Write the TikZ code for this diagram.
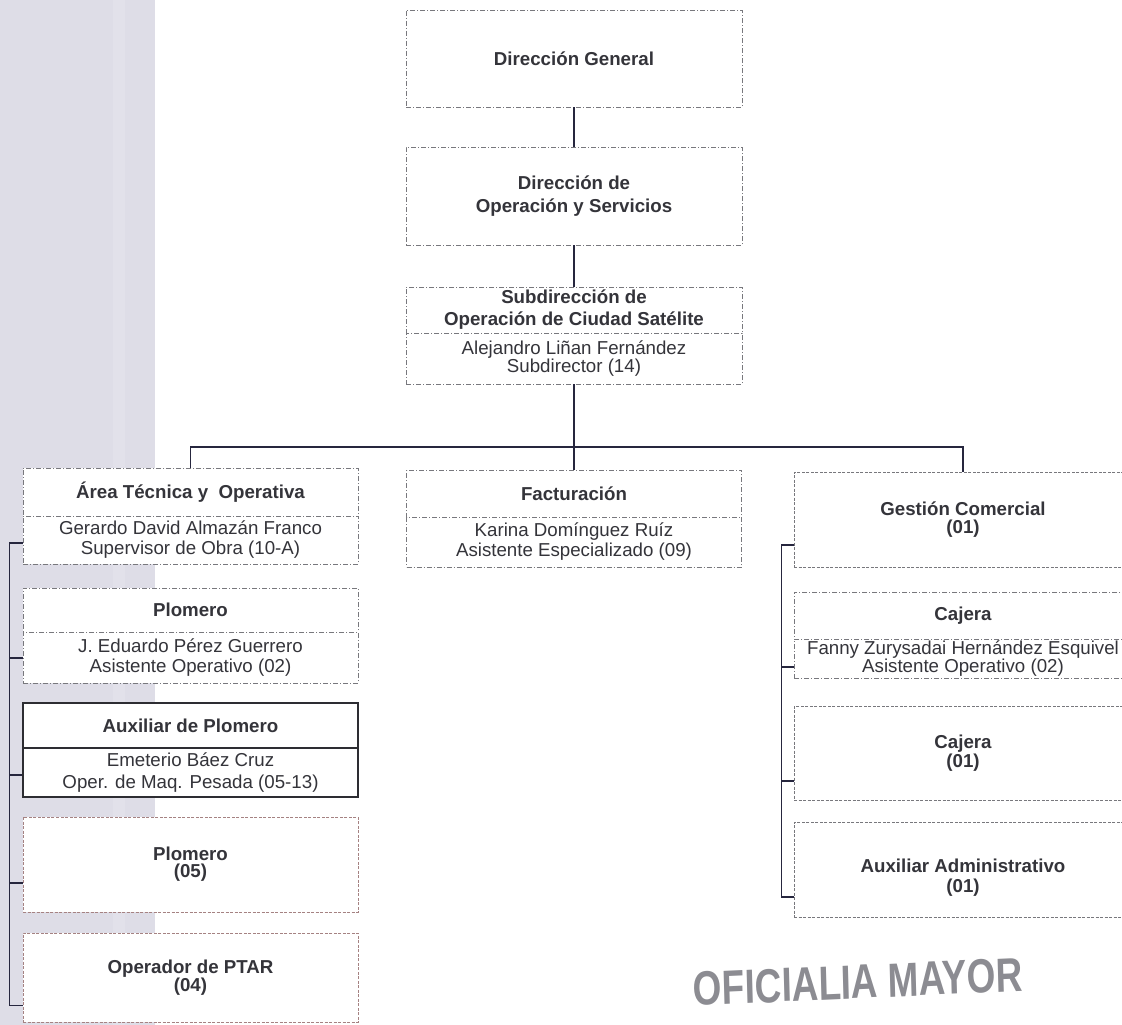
\documentclass[tikz,border=0pt]{standalone}
\usepackage{fontspec}
\setmainfont{Liberation Sans}
\definecolor{textc}{RGB}{52,52,58}
\definecolor{boxc}{RGB}{120,120,125}
\definecolor{redc}{RGB}{165,130,130}
\definecolor{solidc}{RGB}{45,45,50}
\definecolor{connc}{RGB}{38,38,62}
\definecolor{bandc}{RGB}{222,221,231}
\definecolor{bandl}{RGB}{226,225,234}
\definecolor{stampc}{RGB}{140,140,146}
\begin{document}
\begin{tikzpicture}[x=1pt,y=-1pt,
  txt/.style={text=textc, align=center, inner sep=0pt, font=\fontsize{18.7}{20}\selectfont},
  bt/.style={font=\fontsize{18.7}{#1}\selectfont\bfseries},
  bt/.default=20,
  box/.style={txt, draw=boxc, fill=white, line width=0.7pt},
  ddbox/.style={box, dash pattern=on 5pt off 2pt on 1pt off 2pt},
  dsbox/.style={box, dash pattern=on 3pt off 1.5pt},
  rdbox/.style={box, draw=redc, dash pattern=on 3pt off 1.5pt},
  slbox/.style={box, draw=solidc, line width=1.1pt},
  conn/.style={draw=connc, line width=1.6pt}
]
\useasboundingbox (0,0) rectangle (1122,1025);
\clip (0,0) rectangle (1122,1025);
\fill[white] (0,0) rectangle (1122,1025);
\fill[bandc] (0,0) rectangle (155,1025);
\fill[bandl] (113,0) rectangle (125,1025);

% top column
\node[ddbox, bt, minimum width=336pt, minimum height=97pt] (dg) at (574,58.5) {Dirección General};
\node[ddbox, bt=23, minimum width=336pt, minimum height=98pt] (dos) at (574,196) {Dirección de\\Operación y Servicios};
\node[ddbox, bt=22, minimum width=336pt, minimum height=46pt] (subt) at (574,310) {Subdirección de\\Operación de Ciudad Satélite};
\node[ddbox, minimum width=336pt, minimum height=51pt, font=\fontsize{18.7}{18}\selectfont] (subn) at (574,358.5) {Alejandro Liñan Fernández\\Subdirector (14)};

% middle
\node[ddbox, bt, minimum width=335pt, minimum height=47pt] (fact) at (574,493.5) {Facturación};
\node[ddbox, minimum width=335pt, minimum height=50pt] (factn) at (574,542) {Karina Domínguez Ruíz\\Asistente Especializado (09)};

% left column
\node[ddbox, bt, minimum width=335pt, minimum height=48pt] (area) at (190.5,492) {Área Técnica y\ \ Operativa};
\node[ddbox, minimum width=335pt, minimum height=48pt] (arean) at (190.5,540) {Gerardo David Almazán Franco\\Supervisor de Obra (10-A)};
\node[ddbox, bt, minimum width=335pt, minimum height=44pt] (plo) at (190.5,610) {Plomero};
\node[ddbox, minimum width=335pt, minimum height=51pt] (plon) at (190.5,657.5) {J. Eduardo Pérez Guerrero\\Asistente Operativo (02)};
\node[slbox, bt, minimum width=335pt, minimum height=45pt] (aux) at (190.5,725.5) {Auxiliar de Plomero};
\node[slbox, minimum width=335pt, minimum height=49pt, font=\fontsize{18.7}{22}\selectfont] (auxn) at (190.5,772.5) {Emeterio Báez Cruz\\Oper. de Maq. Pesada (05-13)};
\node[rdbox, bt=17, minimum width=335pt, minimum height=95pt] (p05) at (190.5,864.5) {Plomero\\(05)};
\node[rdbox, bt=18, minimum width=335pt, minimum height=89pt] (ptar) at (190.5,977.5) {Operador de PTAR\\(04)};

% right column
\node[dsbox, bt=18, minimum width=338pt, minimum height=95pt] (gest) at (963,519.5) {Gestión Comercial\\(01)};
\node[ddbox, bt, minimum width=338pt, minimum height=47pt] (caj) at (963,615.5) {Cajera};
\node[ddbox, minimum width=338pt, minimum height=39pt, font=\fontsize{18.7}{17}\selectfont] (cajn) at (963,658.5) {Fanny Zurysadai Hernández Esquivel\\Asistente Operativo (02)};
\node[dsbox, bt=17, minimum width=338pt, minimum height=94pt] (caj1) at (963,753) {Cajera\\(01)};
\node[dsbox, minimum width=338pt, minimum height=95pt] (aadm) at (963,869.5) {};
\node[txt, bt=20] (aadmt) at ([yshift=-8pt]aadm.center) {Auxiliar Administrativo\\(01)};

% connectors
\draw[conn] (dg.south) -- (dos.north);
\draw[conn] (dos.south) -- (subt.north);
\draw[conn] (subn.south) -- (fact.north);
\coordinate (bus) at (574,447);
\draw[conn] (area.north) |- (bus) -| (gest.north);

% left bracket
\draw[conn] ([yshift=-3pt]arean.west) -- +(-13pt,0) |- ([yshift=-28pt]ptar.west);
\draw[conn] ([yshift=-0.5pt]plon.west) -- +(-13pt,0);
\draw[conn] ([yshift=-2.5pt]auxn.west) -- +(-13pt,0);
\draw[conn] ([yshift=-18.5pt]p05.west) -- +(-13pt,0);

% right bracket
\draw[conn] ([yshift=-25.5pt]gest.west) -- +(-12pt,0) |- ([yshift=-27.5pt]aadm.west);
\draw[conn] ([yshift=-8.5pt]cajn.west) -- +(-12pt,0);
\draw[conn] ([yshift=-28pt]caj1.west) -- +(-12pt,0);

% stamp
\node[text=stampc, inner sep=0pt, font=\fontsize{48}{48}\selectfont\bfseries, xscale=0.77, rotate=2] (stamp) at (858,982) {OFICIALIA MAYOR};
\end{tikzpicture}
\end{document}
